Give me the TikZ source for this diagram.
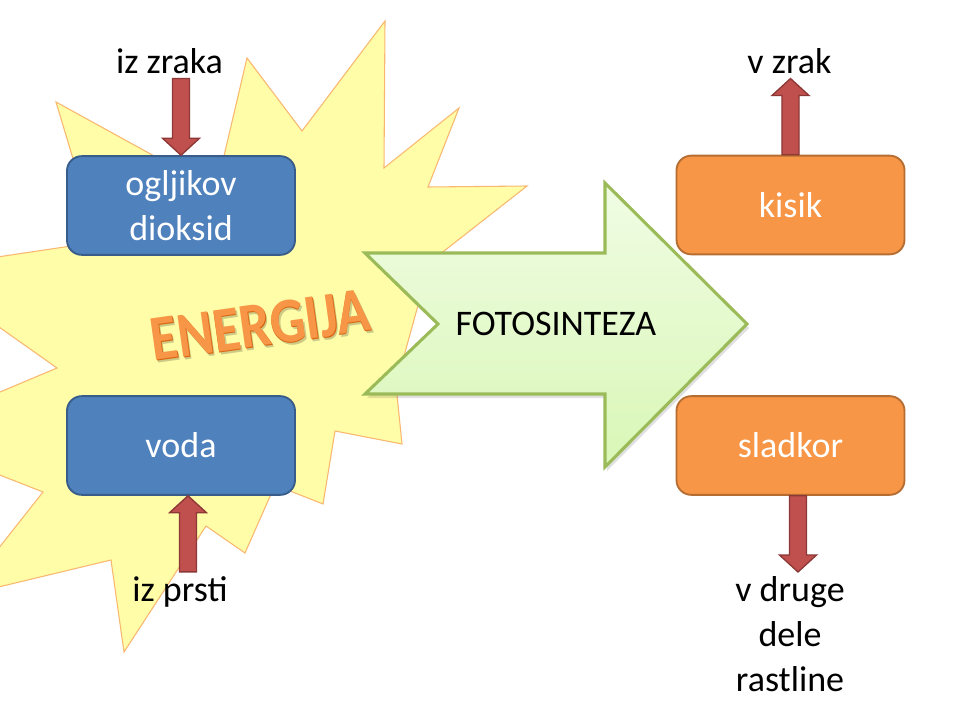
\documentclass[tikz,border=0pt]{standalone}
\usepackage{fontspec}
\setmainfont{Carlito}
\usepackage{tikz}
\usetikzlibrary{calc}
\usetikzlibrary{arrows.meta}
\usetikzlibrary{positioning,shapes,shadows}
\definecolor{boxblue}{HTML}{4F81BD}
\definecolor{blueedge}{HTML}{385D8A}
\definecolor{boxorange}{HTML}{F79646}
\definecolor{orangeedge}{HTML}{B66D31}
\definecolor{arrowred}{HTML}{C0504D}
\definecolor{arrowedge}{HTML}{8C3836}
\definecolor{greenedge}{HTML}{9BBB59}
\definecolor{greentop}{HTML}{F0FCE4}
\definecolor{greenbot}{HTML}{D9F7B6}
\definecolor{staryellow}{RGB}{255,253,168}
\definecolor{staredge}{HTML}{F9B870}
\definecolor{energydark}{HTML}{D9650F}
\tikzset{
    % 蓝色方框
    bluebox/.style={
        rectangle, rounded corners=11pt,
        draw=blueedge, line width=1.4pt, fill=boxblue,
        text=white, align=center,
        minimum width=171pt, minimum height=74pt,
        font=\fontsize{27}{34}\selectfont
    },
    % 橙色方框
    orangebox/.style={
        bluebox, draw=orangeedge, fill=boxorange
    },
    % 普通文字
    label/.style={
        inner sep=3pt, align=center,
        font=\fontsize{27}{34}\selectfont
    },
    % 红色粗箭头
    redarrow/.style={
        fill=arrowred, draw=arrowedge, line width=1pt, line join=miter
    },
    % 立体字
    energytext/.style={
        rotate=8, xscale=0.86,
        font=\fontsize{48}{54}\bfseries
    }
}
\newcommand{\fatarrow}[2]{%
    \coordinate (hb) at ($(#2)!12.75pt!(#1)$);
    \draw[redarrow] ($(#1)!6.4pt!90:(#2)$) -- ($(hb)!6.4pt!90:(#2)$)
        -- ($(hb)!13.9pt!90:(#2)$) -- (#2) -- ($(hb)!13.9pt!-90:(#2)$)
        -- ($(hb)!6.4pt!-90:(#2)$) -- ($(#1)!6.4pt!-90:(#2)$) -- cycle;
}

\begin{document}
\begin{tikzpicture}[x=0.75pt,y=-0.75pt]
	\clip (0,0) rectangle (960,720);
	\fill[white] (0,0) rectangle (960,720);
	
	% 黄色星形
	\draw[fill=staryellow, draw=staredge, line width=0.8pt]
	(247,58) -- (302,131) -- (385,21) -- (384,168) -- (459,108)
	-- (428,187) -- (527,186) -- (430,262) -- (396,385) -- (402,444)
	-- (335,431) -- (323,504) -- (275,485) -- (245,553) -- (206,526)
	-- (124,652) -- (111,560) -- (-39,596) -- (43,492) -- (-102,435)
	-- (57,368) -- (-83,269) -- (98,242) -- (56,102) -- (216,190) -- cycle;
	
	% 绿色大箭头
	\path 
	(365,253) coordinate (g1)
	(605,253) coordinate (g2)
	(605,183) coordinate (g3)
	(747,324) coordinate (g4)
	(605,467) coordinate (g5)
	(605,394) coordinate (g6)
	(365,394) coordinate (g7)
	(438,324) coordinate (g8);
	\fill[black, opacity=0.12] ($(g1)+(2,4)$) -- ($(g2)+(2,4)$) -- ($(g3)+(2,4)$)
	-- ($(g4)+(2,4)$) -- ($(g5)+(2,4)$) -- ($(g6)+(2,4)$) -- ($(g7)+(2,4)$)
	-- ($(g8)+(2,4)$) -- cycle;
	\draw[top color=greentop, bottom color=greenbot, draw=greenedge, line width=2.3pt, line join=miter]
	(g1) -- (g2) -- (g3) -- (g4) -- (g5) -- (g6) -- (g7) -- (g8) -- cycle;
	\node[label] (foto) at (556,324) {FOTOSINTEZA};
	
	% 方框
	\node[bluebox] (co2) at (181,205.5) {ogljikov\\dioksid};
	\node[bluebox] (voda) at (181,445.5) {voda};
	\node[orangebox] (kisik) at (790.5,205) {kisik};
	\node[orangebox] (sladkor) at (790.5,445.5) {sladkor};
	
	% 文字标注
	\node[label, anchor=base] (zraka) at (169.5,74) {iz zraka};
	\node[label, anchor=base] (prsti) at (180,601) {iz prsti};
	\node[label, anchor=base] (vzrak) at (789.5,74) {v zrak};
	\node[label, anchor=north] (druge) at (790,572) {v druge\\dele\\rastline};
	
	% 红色箭头
	\coordinate (pa) at ($(voda.south |- prsti.north)+(7,0)$);
	\coordinate (pb) at ($(voda.south)+(7,0)$);
	\coordinate (sa) at ($(sladkor.south)+(7.5,0)$);
	\coordinate (sb) at ($(sladkor.south |- druge.north)+(7.5,0)$);
	\fatarrow{co2.north |- zraka.south}{co2.north}
	\fatarrow{pa}{pb}
	\fatarrow{kisik.north}{kisik.north |- vzrak.south}
	\fatarrow{sa}{sb}
	
	% ENERGIJA
	\node[energytext, text=black, opacity=0.2] at (262,328) {ENERGIJA};
	\node[energytext, text=energydark] at (260.8,326) {ENERGIJA};
	\node[energytext, text=boxorange] (energy) at (260,325) {ENERGIJA};
\end{tikzpicture}
\end{document}
